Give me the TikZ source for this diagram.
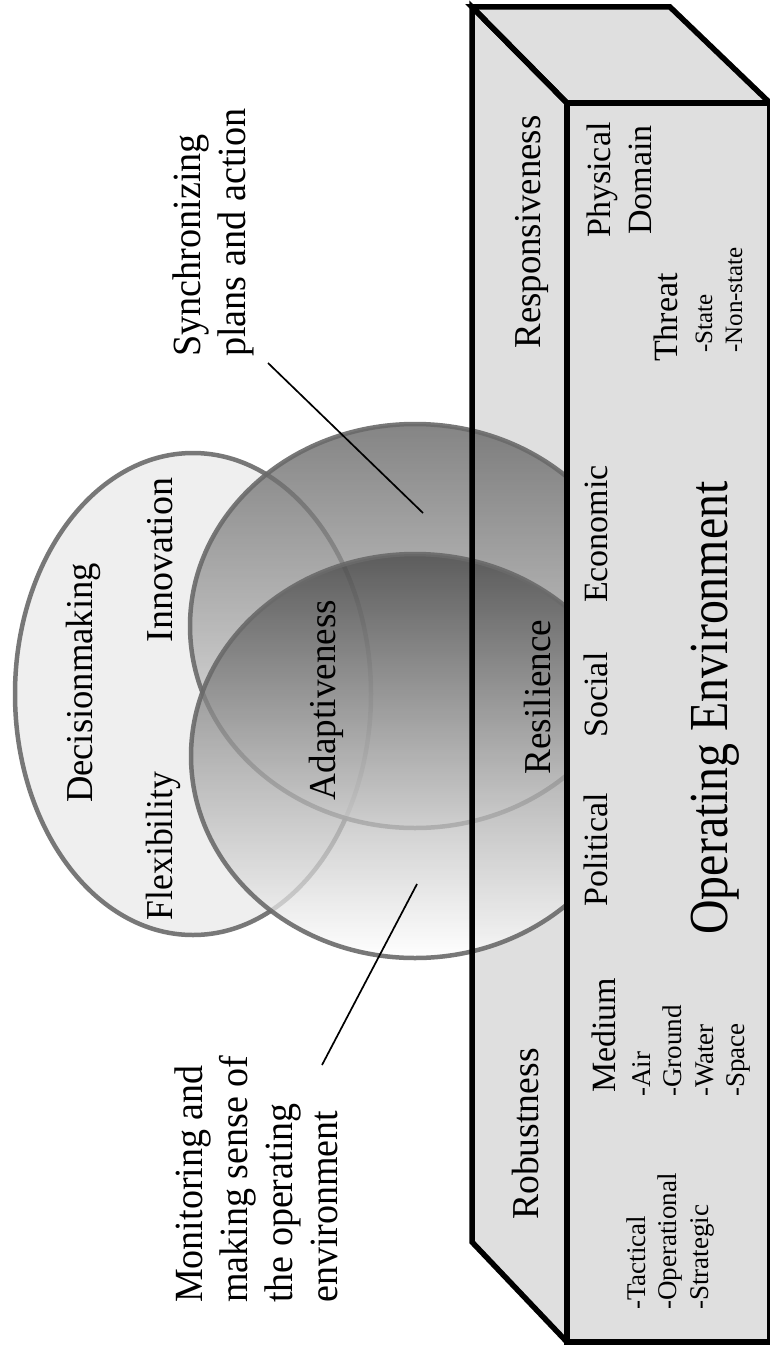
\documentclass[tikz,border=0pt]{standalone}
\usepackage{fontspec}
\setmainfont{Liberation Serif}
\usepackage{graphicx}
\definecolor{boxgray}{HTML}{DFDFDF}
\definecolor{ringgray}{HTML}{6A6A6A}
\definecolor{dmfill}{HTML}{EFEFEF}
\definecolor{btop}{HTML}{5C5C5C}
\definecolor{bbot}{HTML}{F2F2F2}
\definecolor{ctop}{HTML}{444444}
\definecolor{cbot}{HTML}{FFFFFF}
\newcommand{\sqz}[2][0.96]{\scalebox{#1}[1]{#2}}
\begin{document}
\begin{tikzpicture}[x=1pt,y=1pt,
  face/.style={fill=boxgray},
  edge/.style={draw=black,line width=5.5pt,line join=miter},
  ring/.style={draw=ringgray,line width=4.5pt,draw opacity=0.9},
  lbl/.style={rotate=90,inner sep=0pt,font=\fontsize{38}{44}\selectfont},
  call/.style={rotate=90,inner sep=0pt,font=\fontsize{40}{45}\selectfont},
  head/.style={rotate=90,inner sep=0pt,font=\fontsize{34}{41}\selectfont},
  item/.style={rotate=90,inner sep=0pt,font=\fontsize{27}{31.5}\selectfont},
  smallitem/.style={rotate=90,inner sep=0pt,font=\fontsize{25}{30}\selectfont},
  callout/.style={draw=black,line width=1.7pt}]

\useasboundingbox (0,0) rectangle (769,-1346);
\fill[white] (0,0) rectangle (769,-1346);

% box corners
\coordinate (tl) at (472,-7);
\coordinate (tr) at (670,-7);
\coordinate (fr) at (770,-103);
\coordinate (fl) at (567,-103);
\coordinate (sb) at (472,-1242);
\coordinate (fb) at (567,-1342);
\coordinate (fbr) at (770,-1342);

% side strip fill and top face
\path[face] (tl) -- (fl) -- (fb) -- (sb) -- cycle;
\path[face,edge] (tl) -- (tr) -- (fr) -- (fl) -- cycle;

% ellipses
\path[fill=dmfill,ring] (193,-694) ellipse [x radius=178, y radius=241];
\path[top color=btop,bottom color=bbot,fill opacity=0.75,ring] (415,-626) ellipse [x radius=225, y radius=202];
\path[top color=ctop,bottom color=cbot,fill opacity=0.75,ring] (415,-756) ellipse [x radius=224, y radius=202];

% side strip outline
\draw[edge] (fl) -- (tl) -- (sb) -- (fb);

% front face
\path[face,edge] (fl) rectangle (fbr);

% callout lines
\coordinate (syncTail) at (268,-363);
\coordinate (syncTip) at (423,-513);
\coordinate (monTail) at (322,-1065);
\coordinate (monTip) at (417,-884);
\draw[callout] (syncTail) -- (syncTip);
\draw[callout] (monTail) -- (monTip);

% callout labels
\node[call,anchor=north west] (sync) at (169,-357)
  {\sqz[0.955]{\begin{tabular}{@{}l@{}}Synchronizing\\plans and action\end{tabular}}};
\node[call,anchor=north west] (monit) at (170.5,-1303)
  {\sqz[0.95]{\begin{tabular}{@{}l@{}}Monitoring and\\making sense of\\the operating\\environment\end{tabular}}};

% ellipse labels
\node[lbl,anchor=base] (decision) at (92,-683) {\sqz[0.963]{Decisionmaking}};
\node[lbl,anchor=base] (innov) at (172,-560) {\sqz[1.0]{Innovation}};
\node[lbl,anchor=base] (flex) at (172,-846) {\sqz[0.94]{Flexibility}};
\node[lbl,anchor=base] (adapt) at (335,-700) {\sqz[0.977]{Adaptiveness}};

% side strip labels
\node[lbl,anchor=base] (resp) at (540,-232) {\sqz[0.968]{Responsiveness}};
\node[lbl,anchor=base] (resil) at (550,-697) {\sqz[0.979]{Resilience}};
\node[lbl,anchor=base] (robust) at (538,-1134) {\sqz[0.99]{Robustness}};

% front face labels
\node[head,anchor=north] (phys) at (582,-180) {\begin{tabular}{@{}c@{}}Physical\\Domain\end{tabular}};
\node[head,anchor=base west] (threat) at (677,-362) {Threat};
\node[smallitem,anchor=north west] (threatList) at (691,-353) {\begin{tabular}{@{}l@{}}-State\\-Non-state\end{tabular}};
\node[head,anchor=base] (econ) at (607,-534) {Economic};
\node[head,anchor=base] (social) at (607,-695) {Social};
\node[head,anchor=base] (polit) at (607,-850) {Political};
\node[head,anchor=base west] (medium) at (615,-1093) {Medium};
\node[item,anchor=north west] (medList) at (628,-1097) {\begin{tabular}{@{}l@{}}-Air\\-Ground\\-Water\\-Space\end{tabular}};
\node[item,anchor=north west] (levels) at (623,-1310) {\begin{tabular}{@{}l@{}}-Tactical\\-Operational\\-Strategic\end{tabular}};
\node[rotate=90,inner sep=0pt,font=\fontsize{55}{60}\selectfont,anchor=base] (openv) at (727,-708) {\sqz[0.87]{Operating Environment}};
\end{tikzpicture}
\end{document}
